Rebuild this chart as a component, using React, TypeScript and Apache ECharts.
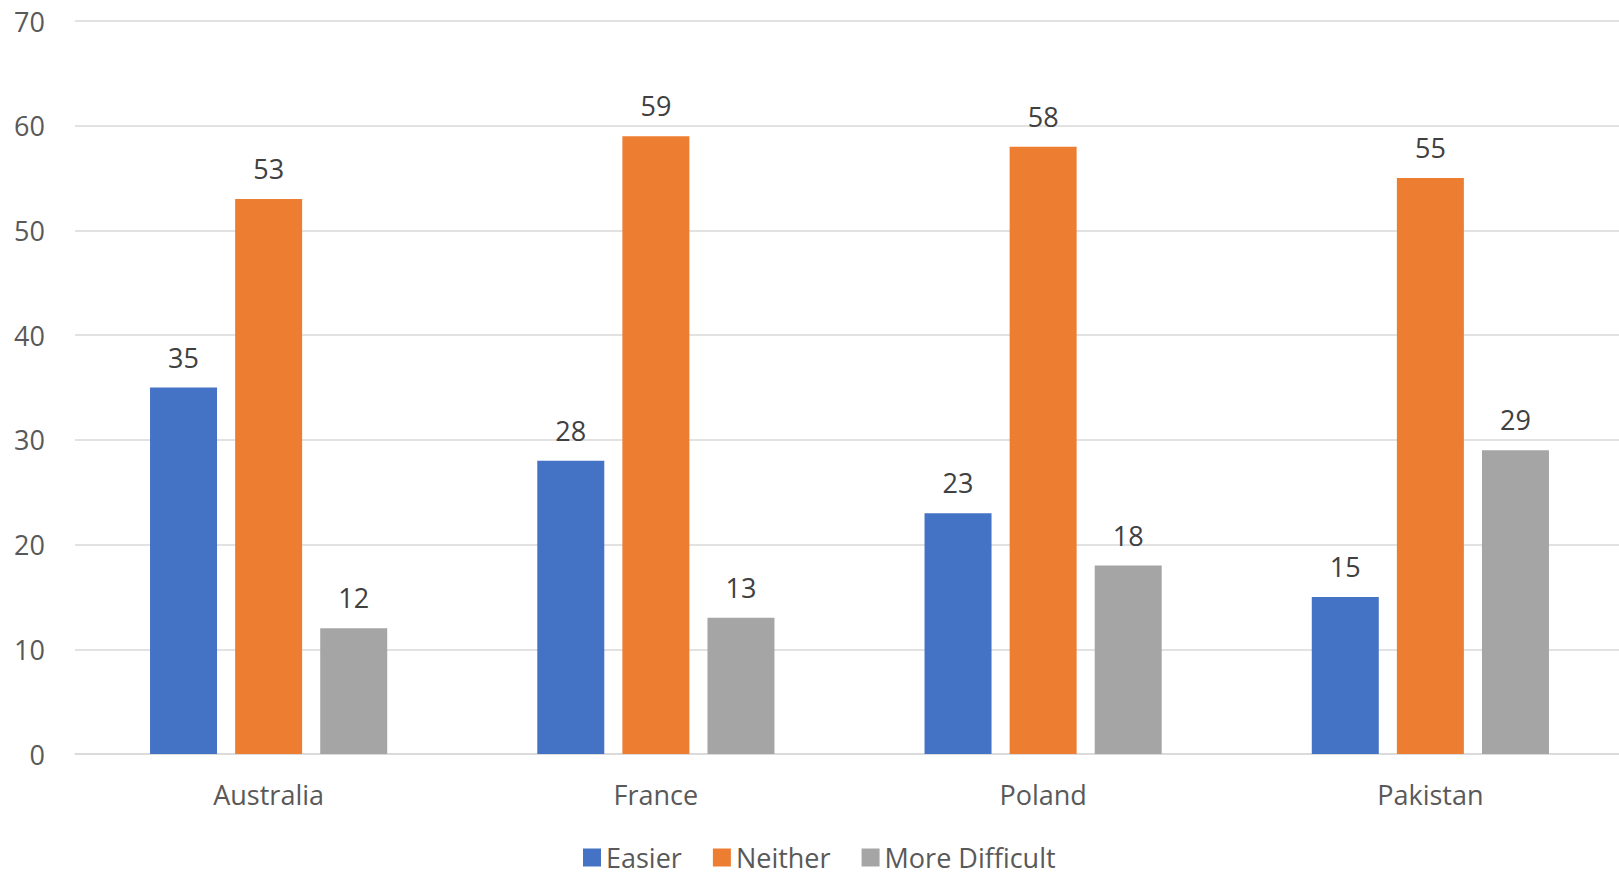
import React, { useEffect, useRef } from "react";
import * as echarts from "echarts";

const categories = ["Australia", "France", "Poland", "Pakistan"];
const easier = [35, 28, 23, 15];
const neither = [53, 59, 58, 55];
const moreDifficult = [12, 13, 18, 29];
const seriesNames = ["Easier", "Neither", "More Difficult"];
const colors = ["#4472C4", "#ED7D31", "#A5A5A5"];

const FONT = "'Open Sans', 'Noto Sans', sans-serif";
const TEXT = "#595959";

export default function App() {
  const ref = useRef<HTMLDivElement>(null);
  useEffect(() => {
    if (!ref.current) return;
    const chart = echarts.init(ref.current, undefined, { renderer: "svg" });
    const values = [easier, neither, moreDifficult];
    chart.setOption({
      animation: false,
      textStyle: { fontFamily: FONT },
      grid: { left: 75, right: 4, top: 21, bottom: 118, containLabel: false },
      legend: {
        data: seriesNames,
        left: 578,
        top: 839,
        itemWidth: 18,
        itemHeight: 18,
        itemGap: 31,
        icon: "rect",
        textStyle: { color: TEXT, fontSize: 27, fontFamily: FONT },
      },
      xAxis: {
        type: "category",
        data: categories,
        axisTick: { show: false },
        axisLine: { lineStyle: { color: "#D9D9D9", width: 1.5 } },
        axisLabel: { color: TEXT, fontSize: 27, fontFamily: FONT, margin: 27 },
      },
      yAxis: {
        type: "value",
        min: 0,
        max: 70,
        interval: 10,
        axisLine: { show: false },
        axisTick: { show: false },
        splitLine: { lineStyle: { color: "#D9D9D9", width: 1.5 } },
        axisLabel: { color: TEXT, fontSize: 27, fontFamily: FONT, margin: 30 },
      },
      series: seriesNames.map((name, i) => ({
        name,
        type: "bar",
        data: values[i],
        barWidth: 67,
        barGap: "27%",
        itemStyle: { color: colors[i] },
        label: {
          show: true,
          position: "top",
          distance: 17,
          color: "#404040",
          fontSize: 27,
          fontFamily: FONT,
        },
      })),
    });
    return () => chart.dispose();
  }, []);
  return (
    <div
      ref={ref}
      style={{ position: "fixed", left: 0, top: 0, width: 1628, height: 872, background: "#fff" }}
    />
  );
}
